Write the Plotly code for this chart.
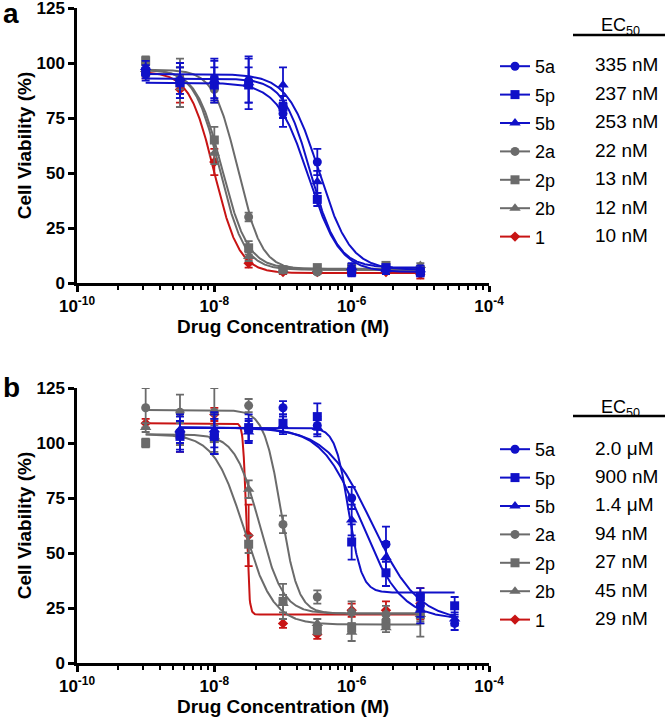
import numpy as np
import plotly.graph_objects as go

# ---- data ----
names = ["5a", "5p", "5b", "2a", "2p", "2b", "1"]
ec50_text_a = ["335 nM", "237 nM", "253 nM", "22 nM", "13 nM", "12 nM", "10 nM"]
ec50_text_b = ["2.0 μM", "900 nM", "1.4 μM", "94 nM", "27 nM", "45 nM", "29 nM"]

# concentrations (M)
conc_a = [1e-9, 3.16e-9, 1e-8, 3.16e-8, 1e-7, 3.16e-7, 1e-6, 3.16e-6, 1e-5]
conc_b_low = [1e-9, 3.16e-9, 1e-8, 3.16e-8, 1e-7, 3.16e-7, 1e-6, 3.16e-6, 1e-5]
conc_b_high = [3.16e-9, 1e-8, 3.16e-8, 1e-7, 3.16e-7, 1e-6, 3.16e-6, 1e-5, 3.16e-5]

# panel a: mean viability (%) and error
via_a = {
    "5a": [95, 92, 93, 92, 77, 55, 6, 6, 5],
    "5p": [96, 91, 90, 90, 80, 38, 5, 7, 5],
    "5b": [98, 93, 92, 91, 90, 46, 7, 6, 6],
    "2a": [97, 93, 88, 30, 6, 5, 6, 7, 6],
    "2p": [101, 91, 65, 16, 6, 7, 7, 8, 6],
    "2b": [97, 92, 59, 12, 6, 6, 7, 7, 8],
    "1": [96, 88, 55, 9, 5, 5, 5, 5, 4],
}
err_a = {
    "5a": [3, 8, 9, 10, 6, 6, 2, 2, 2],
    "5p": [3, 7, 8, 8, 5, 3, 2, 1, 2],
    "5b": [3, 7, 9, 12, 8, 5, 2, 2, 2],
    "2a": [3, 5, 6, 2, 1, 1, 1, 1, 1],
    "2p": [2, 11, 6, 3, 1, 1, 1, 1, 1],
    "2b": [3, 6, 5, 2, 1, 1, 1, 1, 1],
    "1": [3, 6, 6, 2, 1, 1, 1, 1, 2],
}
# panel b
via_b = {
    "5a": [105, 104, 106, 116, 108, 75, 54, 26, 18],
    "5p": [103, 103, 107, 109, 112, 55, 41, 30, 26],
    "5b": [106, 106, 105, 108, 107, 65, 48, 24, 20],
    "2a": [116, 114, 114, 117, 63, 30, 23, 22, 24],
    "2p": [100, 104, 102, 54, 28, 15, 16, 18, 22],
    "2b": [107, 104, 103, 79, 27, 18, 14, 16, 22],
    "1": [109, 105, 113, 58, 18, 13, 24, 24, 27],
}
err_b = {
    "5a": [8, 9, 5, 3, 4, 5, 8, 5, 3],
    "5p": [7, 8, 6, 4, 6, 8, 6, 4, 4],
    "5b": [6, 8, 5, 4, 4, 7, 7, 6, 3],
    "2a": [9, 8, 11, 3, 4, 3, 5, 4, 5],
    "2p": [2, 5, 6, 4, 8, 2, 2, 2, 4],
    "2b": [2, 5, 8, 4, 4, 2, 4, 2, 10],
    "1": [2, 9, 3, 14, 2, 2, 3, 4, 7],
}

# fitted curve parameters: top, bottom, EC50 (M), Hill slope
fit_a = {
    "5a": (95, 6, 3.35e-7, 1.9),
    "5p": (91, 5, 2.37e-7, 1.9),
    "5b": (93, 7, 2.53e-7, 2.2),
    "2a": (97, 6, 2.2e-8, 2.5),
    "2p": (97, 6.5, 1.3e-8, 2.3),
    "2b": (97, 6, 1.2e-8, 2.4),
    "1": (96, 4.5, 1.0e-8, 2.4),
}
fit_b = {
    "5a": (107, 19, 2.0e-6, 1.3),
    "5p": (107, 32, 9.0e-7, 4.5),
    "5b": (107, 20, 1.4e-6, 1.5),
    "2a": (115, 22.5, 9.4e-8, 3.5),
    "2p": (104, 17.5, 2.7e-8, 2.0),
    "2b": (104, 22.5, 4.5e-8, 2.5),
    "1": (109, 22, 2.9e-8, 20),
}

BLUE, GRAY, RED = "#1010c8", "#6b6b6b", "#c81414"
color = {"5a": BLUE, "5p": BLUE, "5b": BLUE, "2a": GRAY, "2p": GRAY, "2b": GRAY, "1": RED}
symbol = {"5a": "circle", "5p": "square", "5b": "triangle-up",
          "2a": "circle", "2p": "square", "2b": "triangle-up", "1": "diamond"}
msize = {"circle": 9, "square": 9, "triangle-up": 10, "diamond": 8}

FONT = "Liberation Sans, Arial, sans-serif"

# page geometry (pixels)
W, H = 666, 719
L, R, T, B = 77, 177, 8, 56
pw, ph = W - L - R, H - T - B


def px_x(p):
    return (p - L) / pw


def px_y(p):
    return 1 - (p - T) / ph


def hill(x, top, bottom, ec50, n):
    return bottom + (top - bottom) / (1 + (x / ec50) ** n)


fig = go.Figure()

draw_order = ["1", "2b", "2p", "2a", "5b", "5p", "5a"]
panels = [
    ("x", "y", via_a, err_a, fit_a, lambda k: conc_a, "legend"),
    ("x2", "y2", via_b, err_b, fit_b,
     lambda k: conc_b_high if k.startswith("5") else conc_b_low, "legend2"),
]

for xa, ya, via, err, fit, concs, leg in panels:
    for k in draw_order:
        c = concs(k)
        xs = np.logspace(np.log10(c[0]), np.log10(c[-1]), 600)
        fig.add_trace(go.Scatter(
            x=xs, y=hill(xs, *fit[k]), mode="lines", xaxis=xa, yaxis=ya,
            line=dict(color=color[k], width=2), showlegend=False, hoverinfo="skip"))
        fig.add_trace(go.Scatter(
            x=c, y=via[k], mode="markers", xaxis=xa, yaxis=ya,
            marker=dict(color=color[k], symbol=symbol[k], size=msize[symbol[k]]),
            error_y=dict(type="data", array=err[k], color=color[k], thickness=1.8, width=4),
            showlegend=False))
    for i, k in enumerate(names):
        fig.add_trace(go.Scatter(
            x=[None], y=[None], mode="lines+markers", name=k, legend=leg,
            legendgroup=leg + k, legendrank=i + 1, xaxis=xa, yaxis=ya,
            line=dict(color=color[k], width=2),
            marker=dict(color=color[k], symbol=symbol[k], size=msize[symbol[k]])))

minor_vals = [10.0 ** e * k * k for e in (-10, -8, -6) for k in range(2, 10)]

xaxis_common = dict(
    type="log", range=[-10, -4], showgrid=False, zeroline=False, automargin=False,
    showline=True, linecolor="black", linewidth=2.5,
    ticks="outside", ticklen=6, tickwidth=2.5, tickcolor="black",
    tickvals=[1e-10, 1e-8, 1e-6, 1e-4], ticklabeloverflow="allow",
    ticktext=["10<sup>-10</sup>", "10<sup>-8</sup>", "10<sup>-6</sup>", "10<sup>-4</sup>"],
    tickfont=dict(family=FONT, size=17, color="black", weight="bold"),
    minor=dict(tickvals=minor_vals, ticks="outside", ticklen=4, tickwidth=2, tickcolor="black"),
    title=dict(text="Drug Concentration (M)", standoff=4,
               font=dict(family=FONT, size=19, color="black", weight="bold")),
)
yaxis_common = dict(
    range=[0, 125], showgrid=False, zeroline=False, automargin=False,
    showline=True, linecolor="black", linewidth=2.5,
    ticks="outside", ticklen=6, tickwidth=2.5, tickcolor="black",
    tickvals=[0, 25, 50, 75, 100, 125], ticklabeloverflow="allow",
    tickfont=dict(family=FONT, size=17, color="black", weight="bold"),
    title=dict(text="Cell Viability (%)", standoff=0,
               font=dict(family=FONT, size=19, color="black", weight="bold")),
)

legend_common = dict(
    xanchor="left", yanchor="top", bgcolor="rgba(0,0,0,0)",
    font=dict(family=FONT, size=18, color="black"),
    tracegroupgap=2, itemsizing="trace",
)

fig.update_layout(
    width=W, height=H, margin=dict(l=L, r=R, t=T, b=B, autoexpand=False),
    paper_bgcolor="white", plot_bgcolor="white",
    xaxis=dict(domain=[0, 1], anchor="y", **xaxis_common),
    yaxis=dict(domain=[px_y(283), 1], anchor="x", **yaxis_common),
    xaxis2=dict(domain=[0, 1], anchor="y2", **xaxis_common),
    yaxis2=dict(domain=[0, px_y(388)], anchor="x2", **yaxis_common),
    legend=dict(x=px_x(495), y=px_y(48), **legend_common),
    legend2=dict(x=px_x(495), y=px_y(431), **legend_common),
)

ann = []
row_gap = 28.4
for first, texts, head_y, line_y in ((65, ec50_text_a, 26, 35), (448, ec50_text_b, 408, 416)):
    for i, t_ in enumerate(texts):
        ann.append(dict(x=px_x(593), y=px_y(first + i * row_gap), xref="paper", yref="paper",
                        text=t_, showarrow=False, xanchor="left", yanchor="middle",
                        font=dict(family=FONT, size=19, color="black")))
    ann.append(dict(x=px_x(620), y=px_y(head_y), xref="paper", yref="paper",
                    text="EC<sub>50</sub>", showarrow=False, xanchor="center", yanchor="middle",
                    font=dict(family=FONT, size=18, color="black")))
    fig.add_shape(type="line", xref="paper", yref="paper",
                  x0=px_x(573), x1=px_x(665), y0=px_y(line_y), y1=px_y(line_y),
                  line=dict(color="black", width=2.5))

for lab, py in (("a", 13), ("b", 387)):
    ann.append(dict(x=px_x(11), y=px_y(py), xref="paper", yref="paper", text=lab,
                    showarrow=False, xanchor="center", yanchor="middle",
                    font=dict(family=FONT, size=28, color="black", weight="bold")))

fig.update_layout(annotations=ann)

# the page's default 8px body margin would shift the whole chart
fig.write_html("out.html", config={"displayModeBar": False},
               post_script="document.body.style.margin='0';")
